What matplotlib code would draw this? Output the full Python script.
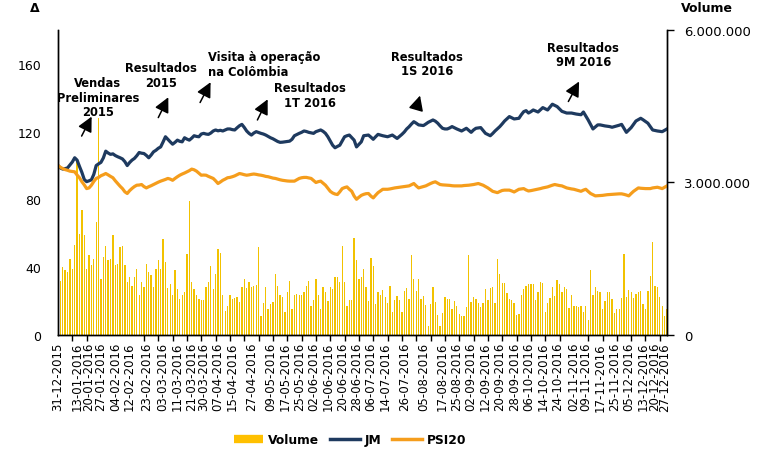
import numpy as np
import pandas as pd
import matplotlib
matplotlib.use('Agg')
import matplotlib.pyplot as plt
from matplotlib.lines import Line2D
from matplotlib.ticker import FuncFormatter, FixedLocator

# Base 100 em 31-12-2015
jm = [
    100.0, 98.6, 97.9, 98.2, 98.6, 100.3, 102.1, 104.6, 103.2, 99.5,
    96.0, 91.8, 90.5, 91.0, 91.6, 94.8, 100.0, 101.0, 101.9, 104.5,
    108.5, 107.4, 106.6, 106.9, 105.9, 105.2, 104.6, 103.9, 102.3, 100.0,
    101.8, 103.2, 104.2, 105.8, 107.7, 107.3, 107.1, 106.0, 104.6, 106.2,
    108.1, 109.0, 110.2, 111.0, 113.9, 117.0, 115.5, 114.0, 112.6, 113.7,
    115.0, 114.3, 114.0, 116.4, 115.6, 115.0, 116.2, 117.6, 117.2, 117.0,
    118.6, 119.0, 118.6, 118.4, 119.2, 120.4, 121.0, 120.5, 120.8, 120.4,
    121.0, 121.6, 121.6, 121.2, 121.0, 122.3, 123.5, 124.3, 122.5, 120.4,
    119.0, 118.0, 119.2, 120.0, 119.5, 119.0, 118.6, 118.0, 117.2, 116.4,
    115.8, 115.0, 114.2, 113.7, 113.8, 114.0, 114.2, 114.4, 115.5, 117.6,
    118.3, 119.0, 119.6, 120.4, 120.1, 119.6, 119.3, 119.0, 120.0, 120.5,
    121.0, 120.2, 119.0, 117.0, 114.5, 112.0, 110.5, 111.3, 112.0, 114.5,
    117.0, 117.6, 118.0, 116.5, 115.0, 111.0, 112.5, 114.0, 117.6, 117.8,
    118.0, 116.8, 115.5, 117.0, 118.4, 118.0, 117.6, 117.3, 117.0, 117.5,
    118.0, 117.0, 116.0, 117.2, 118.4, 119.8, 121.6, 122.9, 124.5, 125.9,
    125.0, 124.0, 123.8, 123.6, 124.5, 125.5, 126.2, 126.9, 126.2, 125.0,
    123.4, 122.0, 121.6, 121.6, 122.2, 123.0, 122.3, 121.6, 121.0, 120.4,
    121.2, 122.0, 120.8, 119.6, 121.0, 122.0, 122.2, 122.4, 120.7, 119.0,
    118.3, 117.6, 118.9, 120.4, 121.7, 123.0, 124.6, 126.3, 127.6, 128.9,
    128.2, 127.5, 127.7, 127.9, 130.0, 131.8, 132.4, 131.0, 131.8, 132.8,
    132.2, 131.6, 132.9, 134.2, 133.5, 132.8, 134.5, 136.2, 135.5, 134.8,
    133.4, 132.0, 131.5, 131.0, 131.0, 131.0, 130.7, 130.4, 130.2, 130.0,
    131.6, 129.2, 126.9, 124.2, 121.6, 122.8, 124.0, 124.0, 123.7, 123.4,
    123.2, 123.0, 122.6, 123.0, 123.4, 123.8, 124.3, 122.0, 119.6, 121.0,
    122.4, 124.4, 126.3, 127.1, 127.9, 127.0, 126.0, 125.0, 123.0, 121.0,
    120.7, 120.4, 120.2, 120.0, 120.8, 121.6,
]

psi20 = [
    100.0, 99.0, 98.2, 97.6, 97.2, 96.7, 96.5, 96.3, 94.4, 92.8,
    90.5, 88.6, 86.4, 86.8, 88.4, 90.6, 92.4, 93.0, 94.0, 94.6,
    95.3, 94.5, 93.6, 92.8, 91.0, 89.4, 87.8, 86.4, 84.5, 83.5,
    85.2, 86.5, 87.6, 88.4, 88.5, 88.8, 87.6, 86.8, 87.5, 88.1,
    88.8, 89.5, 90.2, 90.8, 91.3, 91.8, 92.4, 92.0, 91.3, 92.4,
    93.4, 94.3, 95.0, 95.6, 96.3, 97.0, 97.9, 97.5, 96.7, 95.5,
    94.3, 94.4, 94.3, 93.6, 93.0, 92.4, 91.0, 89.4, 90.3, 91.3,
    92.0, 92.8, 93.0, 93.4, 93.9, 94.6, 95.3, 95.0, 94.6, 94.3,
    94.5, 94.8, 95.0, 94.8, 94.5, 94.3, 94.0, 93.6, 93.4, 93.0,
    92.6, 92.4, 92.0, 91.6, 91.3, 91.1, 90.9, 90.8, 90.8, 90.8,
    91.6, 92.4, 92.8, 93.0, 93.0, 92.7, 92.4, 91.2, 90.0, 90.5,
    90.8, 89.6, 88.4, 86.6, 84.8, 83.8, 83.2, 82.9, 84.5, 86.4,
    87.0, 87.4, 86.0, 84.8, 82.0, 80.1, 81.3, 82.4, 83.0, 83.4,
    83.5, 82.0, 80.9, 82.5, 84.0, 85.0, 86.0, 86.0, 86.0, 86.2,
    86.5, 86.8, 87.0, 87.2, 87.4, 87.6, 87.8, 88.0, 88.7, 89.4,
    88.0, 86.8, 87.2, 87.6, 88.0, 88.7, 89.4, 90.0, 90.4, 89.6,
    88.8, 88.6, 88.5, 88.4, 88.3, 88.1, 88.0, 88.0, 88.0, 88.0,
    88.2, 88.3, 88.4, 88.6, 88.8, 89.1, 89.4, 88.9, 88.4, 87.6,
    86.8, 85.8, 84.8, 84.4, 84.0, 84.7, 85.3, 85.5, 85.5, 85.5,
    85.0, 84.4, 85.2, 86.0, 86.2, 86.4, 85.6, 85.0, 85.2, 85.5,
    85.8, 86.1, 86.4, 86.8, 87.1, 87.4, 87.9, 88.4, 88.8, 88.5,
    88.2, 88.0, 87.4, 86.8, 86.5, 86.2, 86.0, 85.6, 85.2, 84.8,
    85.5, 86.0, 84.7, 83.5, 82.8, 82.1, 82.2, 82.3, 82.4, 82.6,
    82.8, 82.9, 83.0, 83.1, 83.2, 83.3, 83.3, 83.0, 82.6, 82.1,
    83.5, 84.8, 85.8, 86.8, 86.6, 86.5, 86.4, 86.4, 86.4, 86.8,
    87.0, 87.2, 86.8, 86.4, 87.2, 88.0,
]

# milhoes de accoes
volume_m = [
    0.90, 1.07, 1.34, 1.27, 1.24, 1.50, 1.30, 1.78, 3.40, 1.99,
    2.45, 1.96, 1.30, 1.58, 1.37, 1.50, 2.22, 4.26, 1.10, 1.53,
    1.76, 1.47, 1.50, 1.96, 1.38, 1.40, 1.73, 1.76, 1.37, 1.04,
    1.14, 0.97, 1.14, 1.30, 0.78, 1.04, 0.94, 1.40, 1.24, 1.18,
    0.94, 1.30, 1.47, 1.30, 1.89, 1.43, 0.92, 1.01, 0.78, 1.28,
    0.91, 0.71, 0.79, 0.84, 1.60, 2.63, 1.04, 0.91, 0.78, 0.71,
    0.68, 0.68, 0.95, 1.04, 1.35, 0.91, 1.20, 1.70, 1.62, 0.78,
    0.48, 0.58, 0.79, 0.70, 0.72, 0.74, 0.64, 0.94, 1.10, 0.93,
    1.04, 0.94, 0.97, 0.99, 1.73, 0.38, 0.63, 0.94, 0.51, 0.61,
    0.64, 1.20, 0.97, 0.78, 0.74, 0.45, 0.84, 1.07, 0.51, 0.78,
    0.81, 0.78, 0.78, 0.84, 0.97, 1.07, 0.58, 0.68, 1.10, 0.78,
    0.51, 0.94, 0.84, 0.66, 0.94, 0.91, 1.14, 1.14, 1.04, 1.76,
    1.04, 0.58, 0.68, 0.68, 1.91, 1.47, 1.10, 1.14, 1.30, 0.94,
    0.66, 1.51, 1.36, 0.61, 0.84, 0.79, 0.89, 0.74, 0.63, 0.96,
    0.45, 0.69, 0.76, 0.68, 0.46, 0.87, 0.93, 0.71, 1.58, 1.10,
    0.86, 1.10, 0.71, 0.76, 0.59, 0.18, 0.61, 0.95, 0.64, 0.39,
    0.18, 0.43, 0.74, 0.71, 0.70, 0.51, 0.67, 0.58, 0.41, 0.38,
    0.38, 0.56, 1.58, 0.64, 0.74, 0.70, 0.63, 0.55, 0.63, 0.91,
    0.68, 0.92, 0.94, 0.63, 1.49, 1.20, 1.03, 1.03, 0.83, 0.71,
    0.68, 0.63, 0.39, 0.41, 0.78, 0.91, 0.96, 1.01, 1.01, 1.01,
    0.68, 0.84, 1.05, 1.03, 0.45, 0.63, 0.72, 0.94, 0.76, 1.09,
    1.01, 0.84, 0.94, 0.91, 0.53, 0.79, 0.57, 0.58, 0.55, 0.58,
    0.45, 0.57, 0.30, 1.27, 0.78, 0.94, 0.86, 0.84, 0.51, 0.66,
    0.84, 0.84, 0.71, 0.43, 0.51, 0.51, 0.72, 1.60, 0.74, 0.89,
    0.84, 0.72, 0.81, 0.84, 0.87, 0.61, 0.51, 0.86, 1.16, 1.83,
    0.96, 0.94, 0.74, 0.58, 0.38, 0.51,
]

date_labels = [
    '31-12-2015', '13-01-2016', '20-01-2016', '27-01-2016', '04-02-2016',
    '12-02-2016', '23-02-2016', '03-03-2016', '11-03-2016', '21-03-2016',
    '30-03-2016', '07-04-2016', '15-04-2016', '27-04-2016', '09-05-2016',
    '17-05-2016', '25-05-2016', '02-06-2016', '10-06-2016', '20-06-2016',
    '28-06-2016', '06-07-2016', '14-07-2016', '26-07-2016', '05-08-2016',
    '17-08-2016', '25-08-2016', '02-09-2016', '12-09-2016', '20-09-2016',
    '28-09-2016', '06-10-2016', '14-10-2016', '24-10-2016', '02-11-2016',
    '09-11-2016', '17-11-2016', '25-11-2016', '05-12-2016', '13-12-2016',
    '20-12-2016', '27-12-2016',
]

# sessoes da bolsa (feriados Euronext Lisboa 2016)
holidays = pd.to_datetime(['2016-03-25', '2016-03-28', '2016-12-26'])
days = pd.bdate_range('2016-01-04', '2016-12-28')
days = days[~days.isin(holidays)]
days = pd.DatetimeIndex([pd.Timestamp('2015-12-31')]).append(days)
x = np.arange(len(days))
label_pos = [days.get_loc(pd.to_datetime(s, format='%d-%m-%Y')) for s in date_labels]

c_vol = '#F2C200'
c_jm = '#1E3A5F'
c_psi = '#F59D1C'

plt.rcParams['font.family'] = ['DejaVu Sans']

fig = plt.figure(figsize=(7.71, 4.56), dpi=100)
ax = fig.add_axes([0.0752, 0.2632, 0.7899, 0.6688])
ax2 = ax.twinx()

# volume (barras, eixo da direita)
ax.bar(x, np.array(volume_m) * 1e6, width=0.55, color=c_vol, linewidth=0)
ax.set_ylim(0, 6e6)
ax.set_xlim(0, len(x) - 1)
ax.yaxis.tick_right()
ax.yaxis.set_label_position('right')
ax.set_yticks([0, 3e6, 6e6])
ax.yaxis.set_major_formatter(FuncFormatter(lambda v, p: f'{int(v):,}'.replace(',', '.')))
ax.tick_params(axis='y', length=5, width=1, pad=7, labelsize=9.5)

ax.set_xticks(label_pos)
ax.set_xticklabels(date_labels, rotation=90, fontsize=8.5)
ax.tick_params(axis='x', which='major', length=0, pad=5)
ax.xaxis.set_minor_locator(FixedLocator(np.arange(0, len(x), 6)))
ax.tick_params(axis='x', which='minor', length=4, width=1)

# cotacoes base 100 (eixo da esquerda)
ax2.plot(x, jm, color=c_jm, lw=2.3, solid_joinstyle='round')
ax2.plot(x, psi20, color=c_psi, lw=2.3, solid_joinstyle='round')
ax2.set_ylim(0, 180)
ax2.set_xlim(0, len(x) - 1)
ax2.yaxis.tick_left()
ax2.yaxis.set_label_position('left')
ax2.set_yticks([0, 40, 80, 120, 160])
ax2.tick_params(axis='y', length=0, pad=12, labelsize=9)

for a in (ax, ax2):
    a.spines['top'].set_visible(False)
    for s in ('left', 'right', 'bottom'):
        a.spines[s].set_color('black')
        a.spines[s].set_linewidth(1)

# anotacoes
notes = [
    ('Vendas\nPreliminares\n2015', 16.7, 140.2, 'center', (9.9, 117.4), (14.1, 128.9)),
    ('Resultados\n2015', 43.3, 153.3, 'center', (42.0, 128.3), (46.2, 140.3)),
    ('Visita à operação\nna Colômbia', 62.9, 159.9, 'left', (59.5, 137.2), (63.9, 149.2)),
    ('Resultados\n1T 2016', 105.5, 141.7, 'center', (83.5, 126.9), (87.8, 139.1)),
    ('Resultados\n1S 2016', 154.5, 160.2, 'center', (150.4, 135.5), (151.6, 141.3)),
    ('Resultados\n9M 2016', 220.0, 165.5, 'center', (213.7, 137.8), (218.2, 149.6)),
]
for txt, tx, ty, ha, tail, head in notes:
    ax2.text(tx, ty, txt, ha=ha, va='center', fontsize=8.3, fontweight='bold',
             linespacing=1.15, multialignment=ha)
    ax2.annotate('', xy=head, xytext=tail,
                 arrowprops=dict(arrowstyle='-|>,head_length=0.9,head_width=0.45',
                                 color='black', lw=1.1, shrinkA=0, shrinkB=0))

fig.text(35 / 771, 1 - 9 / 456, 'Δ', fontsize=9, fontweight='bold', ha='center', va='center')
fig.text(707 / 771, 1 - 9 / 456, 'Volume', fontsize=9, fontweight='bold', ha='center', va='center')

handles = [Line2D([0], [0], color='#FFC000', lw=6, solid_capstyle='butt'),
           Line2D([0], [0], color=c_jm, lw=2.5),
           Line2D([0], [0], color=c_psi, lw=2.5)]
fig.legend(handles, ['Volume', 'JM', 'PSI20'], loc='center',
           bbox_to_anchor=(350 / 771, 1 - 441 / 456), ncol=3, frameon=False,
           prop={'weight': 'bold', 'size': 8.8}, handlelength=2.4,
           handletextpad=0.4, columnspacing=0.9)

fig.savefig('out.png', dpi=100)
